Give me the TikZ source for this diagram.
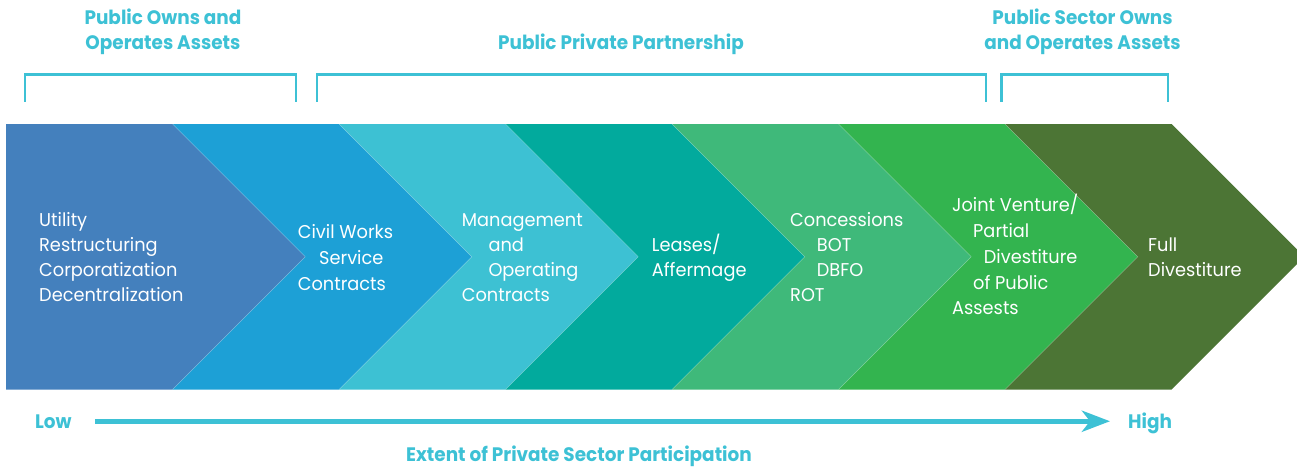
\documentclass[tikz,border=0pt]{standalone}
\usepackage{fontspec}
\usetikzlibrary{arrows.meta}
\setmainfont{Poppins}
\newfontfamily\bodyfont{Poppins}[FakeStretch=0.96]
\newfontfamily\headfont{Poppins}[FakeStretch=0.945]
\definecolor{cA}{HTML}{4480BD}
\definecolor{cB}{HTML}{1DA0D6}
\definecolor{cC}{HTML}{3DC1D3}
\definecolor{cD}{HTML}{02AA9D}
\definecolor{cE}{HTML}{3FB97A}
\definecolor{cF}{HTML}{33B44F}
\definecolor{cG}{HTML}{4C7535}
\definecolor{accent}{HTML}{3DC1D5}
\begin{document}
\begin{tikzpicture}[x=1pt,y=-1pt,
  lbl/.style={inner sep=0pt,anchor=base west,text=white,font=\bodyfont\fontsize{18.5}{25}\selectfont},
  head/.style={inner sep=0pt,anchor=base,text=accent,font=\headfont\bfseries\fontsize{19.5}{25}\selectfont},
  bracket/.style={draw=accent,line width=2.7pt},
  seam/.style={draw=white,draw opacity=0.25,line width=0.6pt}]
\useasboundingbox (0,0) rectangle (1297,468);

% chevron geometry: top edge, bottom edge, middle, tip depth
\def\T{124}\def\B{389.5}\def\M{256.75}\def\H{132.75}

% first block has a flat left edge
\fill[cA] (6,\T) -- (172.5,\T) -- (172.5+\H,\M) -- (172.5,\B) -- (6,\B) -- cycle;
% following blocks, each notched by the one before it
\foreach \a/\b/\c in {172.5/339/cB, 339/505.5/cC, 505.5/672/cD, 672/838.5/cE, 838.5/1005/cF, 1005/1171.5/cG}{
  \fill[\c] (\a,\T) -- (\b,\T) -- (\b+\H,\M) -- (\b,\B) -- (\a,\B) -- (\a+\H,\M) -- cycle;
}
% faint seams along the slanted joins
\foreach \b in {172.5,339,505.5,672,838.5,1005}{
  \draw[seam] (\b,\T) -- (\b+\H,\M) -- (\b,\B);
}

% brackets over the groups
\draw[bracket] (25,102) -- (25,74.5) -- (296,74.5) -- (296,102);
\draw[bracket] (317,102) -- (317,74.5) -- (986,74.5) -- (986,102);
\draw[bracket] (1001.5,102) -- (1001.5,74.5) -- (1168,74.5) -- (1168,102);

% group headings
\node[head] (h1a) at (163,25) {Public Owns and};
\node[head] (h1b) at (163,50) {Operates Assets};
\node[head] (h2) at (621,50) {Public Private Partnership};
\node[head] (h3a) at (1082.5,25) {Public Sector Owns};
\node[head] (h3b) at (1082.5,50) {and Operates Assets};

% block texts
\node[lbl] (t1a) at (39,226.7) {Utility};
\node[lbl] (t1b) at (39,251.7) {Restructuring};
\node[lbl] (t1c) at (39,276.7) {Corporatization};
\node[lbl] (t1d) at (39,301.7) {Decentralization};

\node[lbl] (t2a) at (297.7,238) {Civil Works};
\node[lbl] (t2b) at (319,264) {Service};
\node[lbl] (t2c) at (297.7,290) {Contracts};

\node[lbl] (t3a) at (461.7,226.7) {Management};
\node[lbl] (t3b) at (488.3,251.7) {and};
\node[lbl] (t3c) at (488.3,276.7) {Operating};
\node[lbl] (t3d) at (461.7,301.7) {Contracts};

\node[lbl] (t4a) at (651.7,251.7) {Leases/};
\node[lbl] (t4b) at (651.7,276.7) {Affermage};

\node[lbl] (t5a) at (790,226.7) {Concessions};
\node[lbl] (t5b) at (816.7,251.7) {BOT};
\node[lbl] (t5c) at (816.7,276.7) {DBFO};
\node[lbl] (t5d) at (790,301.7) {ROT};

\node[lbl] (t6a) at (952,211.7) {Joint Venture/};
\node[lbl] (t6b) at (973,237) {Partial};
\node[lbl] (t6c) at (983.7,263) {Divestiture};
\node[lbl] (t6d) at (973,289) {of Public};
\node[lbl] (t6e) at (952,314) {Assests};

\node[lbl] (t7a) at (1148,251.7) {Full};
\node[lbl] (t7b) at (1148,276.7) {Divestiture};

% participation scale
\node[head,anchor=base west] (low) at (35,428) {Low};
\node[head,anchor=base west] (high) at (1128,428.3) {High};
\node[head] (ext) at (579,461.7) {Extent of Private Sector Participation};
\draw[accent,line width=5pt,shorten <=23pt,shorten >=18pt,
  -{Stealth[length=28pt,width=21pt,inset=8pt]}]
  (low.east) -- (low.east -| high.west);
\end{tikzpicture}
\end{document}
